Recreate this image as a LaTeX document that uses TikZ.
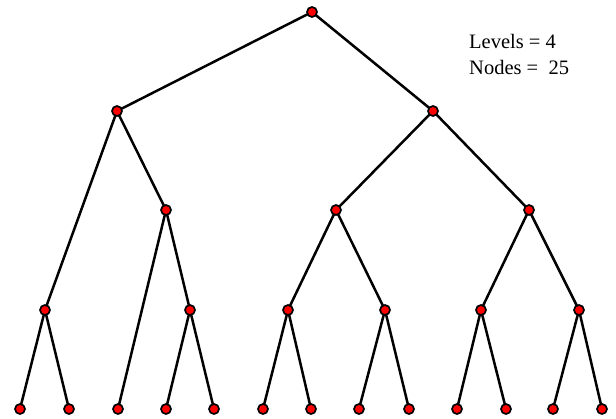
\documentclass[tikz,border=0pt]{standalone}
\usepackage{fontspec}
\setmainfont{Liberation Serif}
\begin{document}
\begin{tikzpicture}[x=1pt,y=-1pt,
  vertex/.style={circle,draw=black,fill=red,line width=1.7pt,inner sep=0pt,minimum size=10pt},
  edge/.style={line width=2.5pt,black},
  info/.style={anchor=base west,inner sep=0pt,font=\fontsize{20.5}{24}\selectfont}]
\useasboundingbox (0,0) rectangle (616,418);
% vertices, level by level
\coordinate (r) at (312,12);
\coordinate (a) at (117,111);
\coordinate (b) at (433,111);
\coordinate (a2) at (166,210);
\coordinate (b1) at (336,210);
\coordinate (b2) at (529,210);
\coordinate (a1) at (45,310);
\coordinate (a21) at (190,310);
\coordinate (b11) at (288,310);
\coordinate (b12) at (385,310);
\coordinate (b21) at (481,310);
\coordinate (b22) at (579,310);
\coordinate (l1) at (20,409);
\coordinate (l2) at (69,409);
\coordinate (l3) at (118,409);
\coordinate (l4) at (166,409);
\coordinate (l5) at (214,409);
\coordinate (l6) at (263,409);
\coordinate (l7) at (311,409);
\coordinate (l8) at (359,409);
\coordinate (l9) at (409,409);
\coordinate (l10) at (457,409);
\coordinate (l11) at (506,409);
\coordinate (l12) at (553,409);
\coordinate (l13) at (602,409);
% edges
\draw[edge] (r) -- (a);  \draw[edge] (r) -- (b);
\draw[edge] (a) -- (a1); \draw[edge] (a) -- (a2);
\draw[edge] (b) -- (b1); \draw[edge] (b) -- (b2);
\draw[edge] (a1) -- (l1); \draw[edge] (a1) -- (l2);
\draw[edge] (a2) -- (l3); \draw[edge] (a2) -- (a21);
\draw[edge] (a21) -- (l4); \draw[edge] (a21) -- (l5);
\draw[edge] (b1) -- (b11); \draw[edge] (b1) -- (b12);
\draw[edge] (b2) -- (b21); \draw[edge] (b2) -- (b22);
\draw[edge] (b11) -- (l6); \draw[edge] (b11) -- (l7);
\draw[edge] (b12) -- (l8); \draw[edge] (b12) -- (l9);
\draw[edge] (b21) -- (l10); \draw[edge] (b21) -- (l11);
\draw[edge] (b22) -- (l12); \draw[edge] (b22) -- (l13);
% vertex markers
\foreach \v in {r,a,b,a1,a2,a21,b1,b2,b11,b12,b21,b22,l1,l2,l3,l4,l5,l6,l7,l8,l9,l10,l11,l12,l13}
  \node[vertex] (n\v) at (\v) {};
% summary text
\node[info] (levels) at (469,48) {Levels = 4};
\node[info] (count) at (469,74) {Nodes =\ \ 25};
\end{tikzpicture}
\end{document}
